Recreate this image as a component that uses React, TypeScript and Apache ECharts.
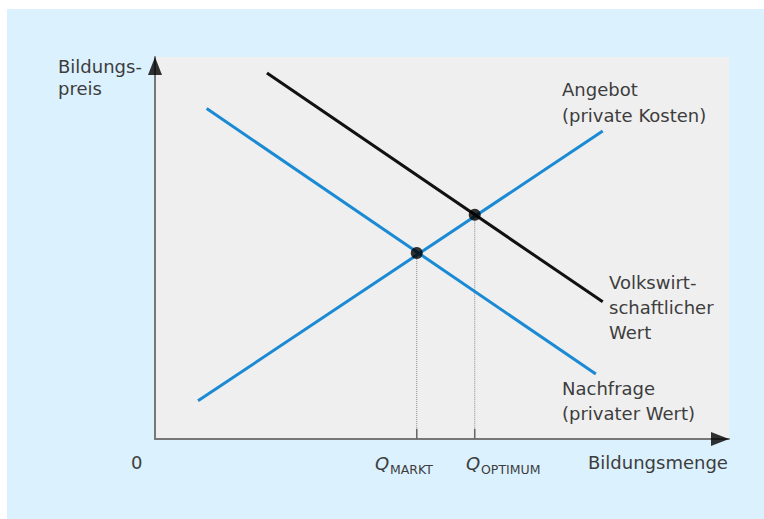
import React, { useEffect, useRef } from 'react';
import * as echarts from 'echarts';

// Data (axis units 0..100 on both axes)
const nachfrage: number[][] = [[9, 86.5], [76.8, 17]];
const angebot: number[][] = [[7.5, 10], [78, 80.6]];
const volkswirtschaftlich: number[][] = [[19.5, 95.8], [78, 35.9]];
const qMarkt: number[] = [45.6, 48.7];
const qOptimum: number[] = [55.7, 58.7];
const tickHeight = 2.7;

const xAxisLabel = 'Bildungsmenge';
const yAxisLabel = 'Bildungs-\npreis';
const originLabel = '0';
const angebotLabel = 'Angebot\n(private Kosten)';
const volkswirtLabel = 'Volkswirt-\nschaftlicher\nWert';
const nachfrageLabel = 'Nachfrage\n(privater Wert)';
const qSubscripts = ['MARKT', 'OPTIMUM'];

const BLUE = '#1a8ad4';
const TEXT = '#3d3d3d';
const FONT = 'DejaVu Sans';

export default function App() {
  const ref = useRef<HTMLDivElement>(null);
  useEffect(() => {
    if (!ref.current) return;
    const chart = echarts.init(ref.current, null, { renderer: 'svg' });
    const txt = (x: number, y: number, text: string, extra: any = {}) => ({
      type: 'text',
      x,
      y,
      silent: true,
      style: {
        text,
        fill: TEXT,
        font: `18px "${FONT}"`,
        fontFamily: FONT,
        fontSize: 18,
        verticalAlign: 'top',
        align: 'left',
        ...extra,
      },
    });
    const lineSeries = (data: number[][], color: string, width: number, type: any = 'solid', z = 3) => ({
      type: 'line',
      data,
      symbol: 'none',
      silent: true,
      z,
      lineStyle: { color, width, type, cap: 'butt' },
    });
    chart.setOption({
      animation: false,
      backgroundColor: '#dbf1fd',
      textStyle: { fontFamily: FONT },
      grid: {
        left: 148,
        top: 48,
        right: 35,
        bottom: 80,
        show: true,
        backgroundColor: '#efefef',
        borderWidth: 0,
      },
      xAxis: {
        type: 'value',
        min: 0,
        max: 100,
        axisLine: { show: true, onZero: false, lineStyle: { color: '#777', width: 2 } },
        axisTick: { show: false },
        axisLabel: { show: false },
        splitLine: { show: false },
      },
      yAxis: {
        type: 'value',
        min: 0,
        max: 100,
        axisLine: { show: true, onZero: false, lineStyle: { color: '#777', width: 2 } },
        axisTick: { show: false },
        axisLabel: { show: false },
        splitLine: { show: false },
      },
      series: [
        lineSeries([qMarkt, [qMarkt[0], 0]], '#8c8c8c', 1, 'dotted', 2),
        lineSeries([qOptimum, [qOptimum[0], 0]], '#8c8c8c', 1, 'dotted', 2),
        lineSeries([[qMarkt[0], 0], [qMarkt[0], tickHeight]], '#666', 1.5, 'solid', 2),
        lineSeries([[qOptimum[0], 0], [qOptimum[0], tickHeight]], '#666', 1.5, 'solid', 2),
        lineSeries(nachfrage, BLUE, 3),
        lineSeries(angebot, BLUE, 3),
        lineSeries(volkswirtschaftlich, '#111', 3),
        {
          type: 'scatter',
          data: [qMarkt, qOptimum],
          symbol: 'circle',
          symbolSize: 12,
          itemStyle: { color: '#000' },
          silent: true,
          z: 5,
        },
        {
          type: 'scatter',
          data: [[100, 0]],
          symbol: 'path://M0 0L18 7L0 14Z',
          symbolSize: [18, 14],
          symbolOffset: [-9, 0],
          itemStyle: { color: '#000' },
          clip: false,
          silent: true,
          z: 6,
        },
        {
          type: 'scatter',
          data: [[0, 100]],
          symbol: 'path://M7 0L14 18L0 18Z',
          symbolSize: [14, 18],
          symbolOffset: [0, 9],
          itemStyle: { color: '#000' },
          clip: false,
          silent: true,
          z: 6,
        },
      ],
      graphic: [
        txt(51, 46, yAxisLabel, { lineHeight: 22 }),
        txt(581, 441, xAxisLabel, { lineHeight: 24 }),
        txt(124, 441, originLabel, { lineHeight: 24 }),
        txt(555, 67, angebotLabel, { lineHeight: 26 }),
        txt(602, 261, volkswirtLabel, { lineHeight: 25 }),
        txt(555, 367, nachfrageLabel, { lineHeight: 25 }),
        txt(368, 442, 'Q', { fontStyle: 'italic', font: `italic 18px "${FONT}"`, lineHeight: 24 }),
        txt(383, 453, qSubscripts[0], { fontSize: 12.5, font: `12.5px "${FONT}"`, lineHeight: 14 }),
        txt(459, 442, 'Q', { fontStyle: 'italic', font: `italic 18px "${FONT}"`, lineHeight: 24 }),
        txt(474, 453, qSubscripts[1], { fontSize: 12.5, font: `12.5px "${FONT}"`, lineHeight: 14 }),
      ],
    });
    return () => chart.dispose();
  }, []);
  return (
    <div style={{ position: 'fixed', left: 0, top: 0, width: 764, height: 519, background: '#fff', overflow: 'hidden' }}>
      <div ref={ref} style={{ position: 'absolute', left: 7, top: 9, width: 757, height: 510 }} />
    </div>
  );
}
